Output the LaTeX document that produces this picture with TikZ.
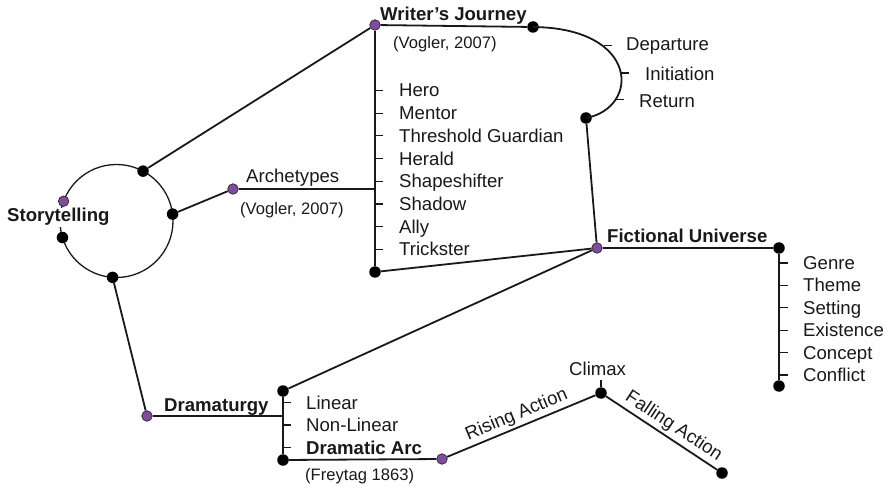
\documentclass[tikz,border=0pt]{standalone}
\usepackage{fontspec}
\setmainfont{Liberation Sans}
\usetikzlibrary{calc}
\definecolor{dotpurple}{RGB}{128,76,158}
\definecolor{ink}{RGB}{25,25,25}
\newcommand\txtsz{\fontsize{18.6}{22}\selectfont}
\newcommand\citesz{\fontsize{16.6}{19.5}\selectfont}
\begin{document}
\begin{tikzpicture}[x=1pt,y=-1pt,
  link/.style={line width=1.8pt, ink},
  ring/.style={line width=1.3pt, ink},
  tick/.style={line width=1.1pt, ink},
  bdot/.style={circle, fill=black, inner sep=0pt, minimum size=11.5pt},
  pdot/.style={circle, fill=dotpurple, draw=black!85, line width=0.7pt, inner sep=0pt, minimum size=10.5pt},
  lbl/.style={font=\txtsz, text=ink, inner sep=0pt, anchor=base west},
  hdr/.style={lbl, font=\txtsz\bfseries},
  cite/.style={lbl, font=\citesz},
  slopelbl/.style={font=\txtsz, text=ink, sloped, above, inner sep=2.5pt}
]
\useasboundingbox (0,0) rectangle (891,486);

% ---- Storytelling hub ----
\coordinate (hub) at (116.5,221);
\draw[ring] (hub) circle [radius=56.5pt];
\node[hdr, fill=white, inner xsep=0pt, inner ysep=1pt] (story) at (7,222) {Storytelling};
\node[pdot] (hubP) at ($(hub)+(159.5:56.5pt)$) {};
\node[bdot] (hubA) at ($(hub)+(62:56.5pt)$) {};
\node[bdot] (hubB) at ($(hub)+(7:56.5pt)$) {};
\node[bdot] (hubC) at ($(hub)+(197:56.5pt)$) {};
\node[bdot] (hubD) at ($(hub)+(266:56.5pt)$) {};

% ---- branch nodes ----
\node[pdot] (wj) at (375,25) {};
\node[bdot] (wjEnd) at (533,27) {};
\node[bdot] (wjRet) at (586,118) {};
\node[pdot] (arc) at (233,189) {};
\coordinate (arcJoin) at (375,189);
\node[bdot] (arcEnd) at (375,272) {};
\node[pdot] (fu) at (597,248) {};
\node[bdot] (fuEnd) at (779,248) {};
\node[bdot] (fuLast) at (779,386) {};
\node[pdot] (dr) at (147,416) {};
\coordinate (drJoin) at (283,416);
\node[bdot] (drTop) at (283,391) {};
\node[bdot] (drBot) at (283,460) {};
\node[pdot] (da) at (442,459) {};
\node[bdot] (cl) at (601,393) {};
\node[bdot] (fa) at (722,473) {};

% ---- connectors ----
\draw[link] (hubA) -- (wj);
\draw[link] (hubB) -- (arc);
\draw[link] (hubD) -- (dr);
\draw[link] (wj) -- (wjEnd);
\draw[link] (wjEnd.center) .. controls (640,28) and (640,108) .. (wjRet.center)
  coordinate[pos=0.3] (tDep) coordinate[pos=0.53] (tIni) coordinate[pos=0.75] (tRet);
\draw[link] (wjRet) -- (fu);
\draw[link] (wj) -- (arcEnd);
\draw[link] (arc) -- (arcJoin);
\draw[link] (arcEnd) -- (fu);
\draw[link] (fu) -- (fuEnd);
\draw[link] (fuEnd) -- (fuLast);
\draw[link] (fu) -- (drTop);
\draw[link] (dr) -- (drJoin);
\draw[link] (drTop) -- (drBot);
\draw[link] (drBot) -- (da);
\draw[link] (da) -- node[slopelbl] {Rising Action} (cl);
\draw[link] (cl) -- node[slopelbl, pos=0.55] {Falling Action} (fa);
\draw[tick] (cl) -- ++(0,-13);

% ---- Writer's Journey ----
\node[hdr] (wjT) at (380,21) {Writer’s Journey};
\node[cite] (wjC) at (393,49) {(Vogler, 2007)};
\draw[tick] ($(tDep)+(2,0)$) -- ++(8,0);
\draw[tick] (tIni) -- ++(8,0);
\draw[tick] ($(tRet)+(-1,0)$) -- ++(9,0);
\node[lbl] (dep) at (626,51) {Departure};
\node[lbl] (ini) at (645,80.5) {Initiation};
\node[lbl] (ret) at (639,108) {Return};

% ---- Archetypes ----
\node[lbl] (arcT) at (246,182.5) {Archetypes};
\node[cite] (arcC) at (240,215) {(Vogler, 2007)};
\foreach \name [count=\i from 0] in {Hero,Mentor,Threshold Guardian,Herald,Shapeshifter,Shadow,Ally,Trickster}{
  \draw[tick] (375,90.5+22.7*\i) -- ++(8,0);
  \node[lbl] at (399,97+22.7*\i) {\name};
}

% ---- Fictional Universe ----
\node[hdr] (fuT) at (607,243) {Fictional Universe};
\foreach \name [count=\i from 0] in {Genre,Theme,Setting,Existence,Concept,Conflict}{
  \draw[tick] (779,263+22.4*\i) -- ++(9,0);
  \node[lbl] at (803,269.5+22.4*\i) {\name};
}

% ---- Dramaturgy ----
\node[hdr] (drT) at (164,411) {Dramaturgy};
\draw[tick] (283,402.5) -- ++(8,0);
\draw[tick] (283,425) -- ++(8,0);
\draw[tick] (283,447.5) -- ++(8,0);
\node[lbl] (lin) at (306,409) {Linear};
\node[lbl] (nlin) at (306,431.5) {Non-Linear};
\node[hdr] (daT) at (306,454) {Dramatic Arc};
\node[cite] (daC) at (305,480) {(Freytag 1863)};
\node[lbl] (clT) at (569,375) {Climax};
\end{tikzpicture}
\end{document}
